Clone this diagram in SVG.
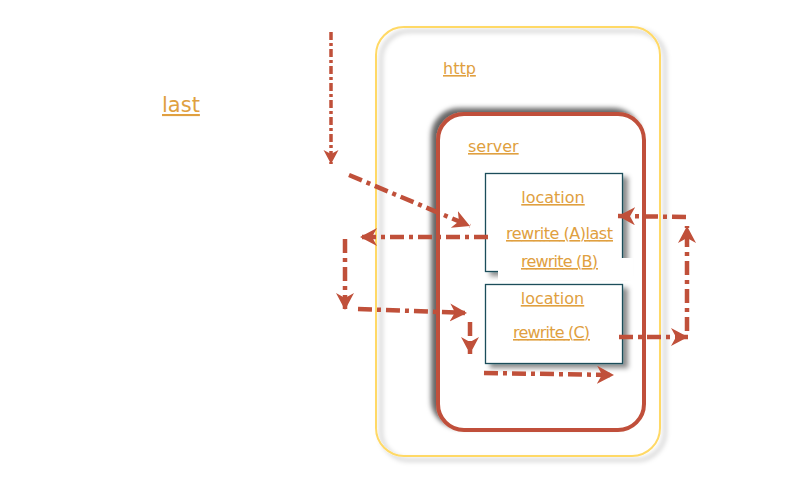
<svg xmlns="http://www.w3.org/2000/svg" width="800" height="500" viewBox="0 0 800 500">
<defs>
<style>
.t{font-family:"DejaVu Sans","Verdana",sans-serif;fill:#E0A040;text-decoration:underline;}
.a{fill:none;stroke:#C0503A;stroke-width:4.5;stroke-dasharray:14 5 4 5;marker-end:url(#ah);}
.loc{fill:#FFFFFF;stroke:#1F4E5A;stroke-width:1.3;filter:url(#shR);}
</style>
<marker id="ah" markerUnits="userSpaceOnUse" markerWidth="20" markerHeight="20" refX="17" refY="9" orient="auto">
<path d="M0,0 L17,9 L0,18 L5,9 Z" fill="#C0503A"/>
</marker>
<marker id="ah2" markerUnits="userSpaceOnUse" markerWidth="18" markerHeight="16" refX="14" refY="7.5" orient="auto">
<path d="M0,0 L14,7.5 L0,15 L4,7.5 Z" fill="#C0503A"/>
</marker>
<filter id="shR" x="-20%" y="-20%" width="140%" height="140%">
<feGaussianBlur in="SourceAlpha" stdDeviation="2.5"/>
<feOffset dx="5" dy="4" result="b"/>
<feFlood flood-color="#000" flood-opacity="0.45"/>
<feComposite in2="b" operator="in"/>
<feMerge><feMergeNode/><feMergeNode in="SourceGraphic"/></feMerge>
</filter>
<filter id="shL" x="-20%" y="-20%" width="140%" height="140%">
<feGaussianBlur in="SourceAlpha" stdDeviation="2.5"/>
<feOffset dx="-5" dy="-4" result="b"/>
<feFlood flood-color="#000" flood-opacity="0.6"/>
<feComposite in2="b" operator="in"/>
<feMerge><feMergeNode/><feMergeNode in="SourceGraphic"/></feMerge>
</filter>
<filter id="shH" x="-20%" y="-20%" width="140%" height="140%">
<feGaussianBlur in="SourceAlpha" stdDeviation="2.5"/>
<feOffset dx="5" dy="4" result="b"/>
<feFlood flood-color="#000" flood-opacity="0.3"/>
<feComposite in2="b" operator="in"/>
<feMerge><feMergeNode/><feMergeNode in="SourceGraphic"/></feMerge>
</filter>
</defs>
<rect width="800" height="500" fill="#FFFFFF"/>

<g id="label-last">
<text class="t" x="162" y="112" font-size="21">last</text>
</g>

<g id="http">
<rect x="376" y="27" width="284" height="429" rx="28" fill="none" stroke="#FFD966" stroke-width="2" filter="url(#shH)"/>
<text class="t" x="443" y="74" font-size="16">http</text>
</g>

<g id="server">
<rect x="438" y="114" width="206" height="316" rx="26" fill="#FFFFFF" stroke="#C0503A" stroke-width="4" filter="url(#shL)"/>
<text class="t" x="468" y="152" font-size="16">server</text>
</g>

<g id="location1">
<rect class="loc" x="485.5" y="173.5" width="137" height="98"/>
<rect x="498" y="258" width="135" height="22" fill="#FFFFFF"/>
<text class="t" x="553" y="203" font-size="16" text-anchor="middle">location</text>
<text class="t" x="506" y="239" font-size="16" textLength="107" lengthAdjust="spacing">rewrite (A)last</text>
<text class="t" x="521" y="267" font-size="16" textLength="77" lengthAdjust="spacing">rewrite (B)</text>
</g>

<g id="location2">
<rect class="loc" x="485.5" y="284.5" width="137" height="79"/>
<text class="t" x="552.5" y="304" font-size="16" text-anchor="middle">location</text>
<text class="t" x="513" y="338" font-size="16" textLength="77" lengthAdjust="spacing">rewrite (C)</text>
</g>

<g id="connectors">
<path d="M331,32 L331,164" fill="none" stroke="#C0503A" stroke-width="3.5" stroke-dasharray="8 3 3 3" marker-end="url(#ah2)"/>
<path class="a" d="M349,175 L470,226"/>
<path class="a" d="M488,237 L360,237"/>
<path class="a" d="M345,239 L345,310"/>
<path class="a" d="M358,309 L467,313"/>
<path class="a" d="M470,322 L470,354"/>
<path class="a" d="M484,373 L614,375"/>
<path class="a" d="M619,337 L688,337"/>
<path class="a" d="M687,331 L687,226"/>
<path class="a" d="M686,217 L618,216"/>
</g>
</svg>
